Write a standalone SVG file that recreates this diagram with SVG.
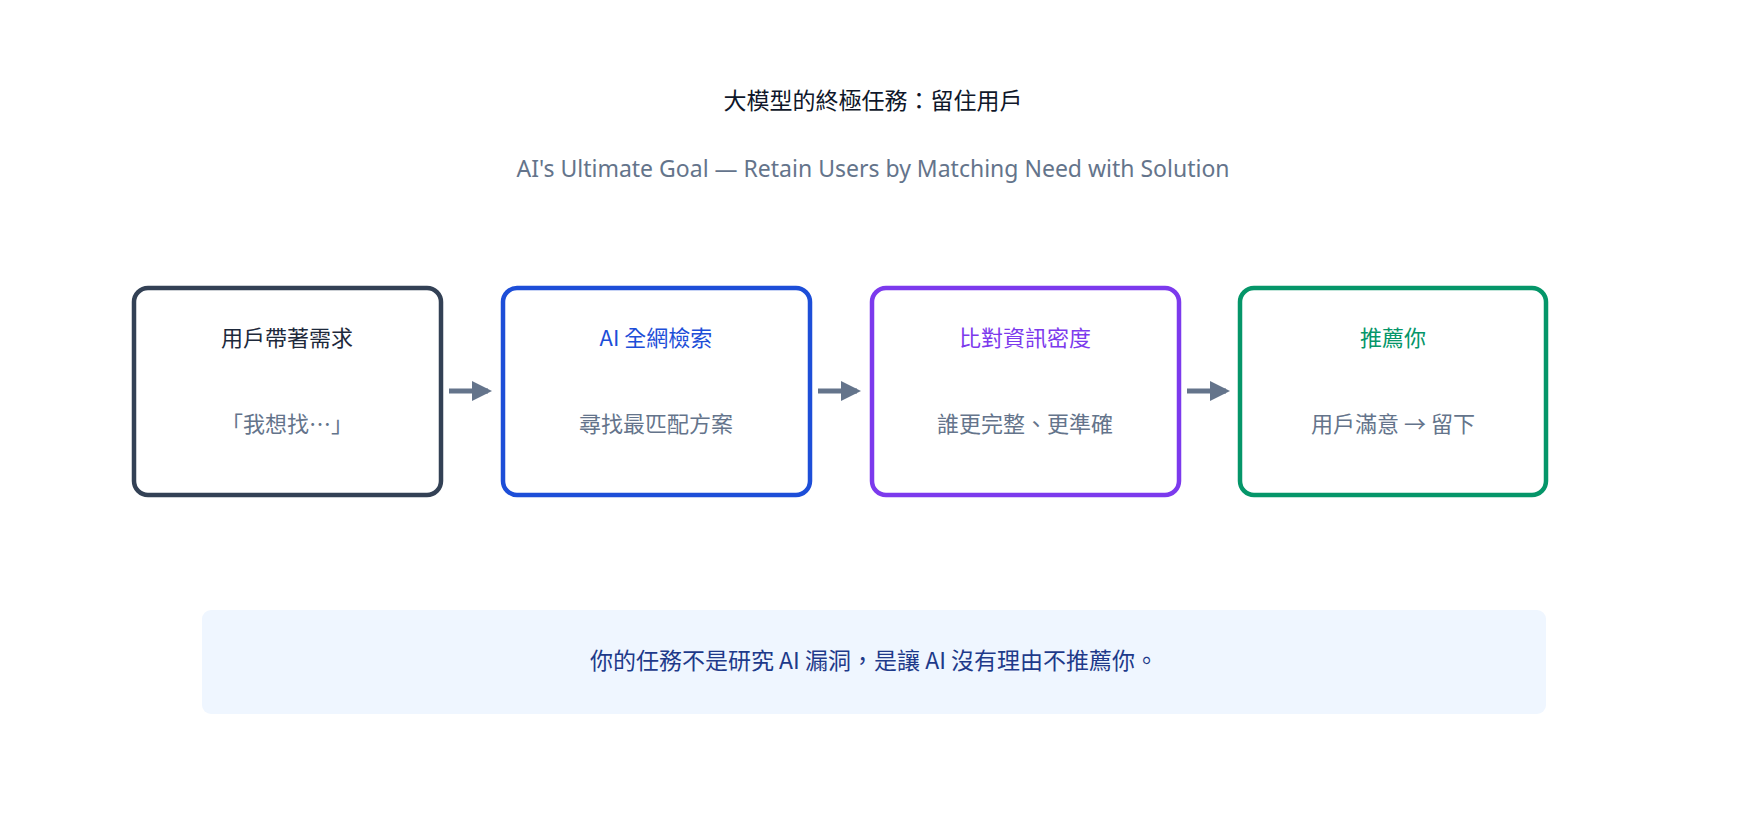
<svg xmlns="http://www.w3.org/2000/svg" width="1745" height="834" viewBox="0 0 1745 834">
<style>
text{font-family:"Noto Sans CJK TC","Noto Sans",sans-serif;text-anchor:middle}
.box{fill:#fff;stroke-width:4.5}
.h{font-size:22px}
.s{font-size:22px;fill:#64748b}
</style>
<defs><marker id="ah" viewBox="0 0 10 10" refX="8" refY="5" markerWidth="4" markerHeight="4" orient="auto"><path d="M0,0L10,5L0,10z" fill="#64748b"/></marker></defs>
<rect width="1745" height="834" fill="#fff"/>
<text x="873" y="109" font-size="23" fill="#0f172a">大模型的終極任務：留住用戶</text>
<text x="873" y="177" font-size="23" fill="#64748b" style="font-family:'Noto Sans','Noto Sans CJK TC',sans-serif">AI's Ultimate Goal — Retain Users by Matching Need with Solution</text>
<g id="n1"><rect class="box" x="134" y="288" width="307" height="207" rx="14" stroke="#334155"/><text class="h" x="287" y="346" fill="#1e293b">用戶帶著需求</text><text class="s" x="287" y="432">「我想找⋯」</text></g>
<g id="n2"><rect class="box" x="503" y="288" width="307" height="207" rx="14" stroke="#1d4ed8"/><text class="h" x="656" y="346" fill="#1d4ed8">AI 全網檢索</text><text class="s" x="656" y="432">尋找最匹配方案</text></g>
<g id="n3"><rect class="box" x="872" y="288" width="307" height="207" rx="14" stroke="#7c3aed"/><text class="h" x="1025" y="346" fill="#7c3aed">比對資訊密度</text><text class="s" x="1025" y="432">誰更完整、更準確</text></g>
<g id="n4"><rect class="box" x="1240" y="288" width="306" height="207" rx="14" stroke="#059669"/><text class="h" x="1393" y="346" fill="#059669">推薦你</text><text class="s" x="1393" y="432">用戶滿意 → 留下</text></g>
<g id="connectors" stroke="#64748b" stroke-width="5" marker-end="url(#ah)">
<line x1="449" y1="391" x2="488" y2="391"/>
<line x1="818" y1="391" x2="857" y2="391"/>
<line x1="1187" y1="391" x2="1226" y2="391"/>
</g>
<g id="note"><rect x="202" y="610" width="1344" height="104" rx="9" fill="#eff6ff"/><text x="874" y="669" font-size="23" fill="#1e3a8a">你的任務不是研究 AI 漏洞，是讓 AI 沒有理由不推薦你。</text></g>
</svg>
